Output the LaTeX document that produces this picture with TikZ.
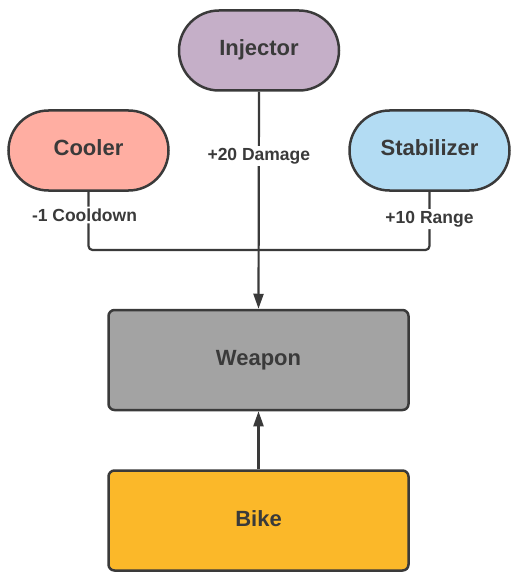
\documentclass[tikz,border=0pt]{standalone}
\usepackage{fontspec}
\setmainfont{Liberation Sans}
\usetikzlibrary{arrows.meta}

\definecolor{linecol}{HTML}{3A3A3A}
\definecolor{injectorcol}{HTML}{C5AFC8}
\definecolor{coolercol}{HTML}{FFAEA2}
\definecolor{stabilizercol}{HTML}{B3DCF3}
\definecolor{weaponcol}{HTML}{A3A3A3}
\definecolor{bikecol}{HTML}{FBB829}

\tikzset{
  part/.style={draw=linecol, line width=2.5pt, rounded corners=40pt,
    minimum width=160pt, minimum height=80pt, inner sep=0pt,
    text height=16pt, text depth=5pt,
    font=\fontsize{22}{26}\selectfont\bfseries, text=linecol},
  block/.style={draw=linecol, line width=2.5pt, rounded corners=6pt,
    minimum width=300pt, minimum height=100pt, inner sep=0pt,
    text height=16pt, text depth=5pt,
    font=\fontsize{22}{26}\selectfont\bfseries, text=linecol},
  wire/.style={draw=linecol, line width=2.2pt},
  bonus/.style={fill=white, inner sep=2pt, text=linecol,
    font=\fontsize{17.5}{20}\selectfont\bfseries},
  tip/.style={-{Triangle[length=15pt,width=10pt]}}
}

\begin{document}
\begin{tikzpicture}[x=1pt,y=-1pt]
\useasboundingbox (0,0) rectangle (516,580);
% parts
\node[part, fill=injectorcol] (injector) at (259,50.5) {Injector};
\node[part, fill=coolercol] (cooler) at (88.5,150.5) {Cooler};
\node[part, fill=stabilizercol] (stabilizer) at (429.5,150.5) {Stabilizer};
% weapon and bike
\node[block, fill=weaponcol] (weapon) at (258.5,360) {Weapon};
\node[block, fill=bikecol] (bike) at (258.5,520.5) {Bike};
\coordinate (join) at (259,250);
% connectors
\draw[wire, rounded corners=4pt] (cooler.south) |- node[bonus, pos=0.2, xshift=-4pt] {-1 Cooldown} (join);
\draw[wire, rounded corners=4pt] (stabilizer.south) |- node[bonus, pos=0.235] {+10 Range} (join);
\draw[wire, tip] (injector.south) -- node[bonus, pos=0.295] {+20 Damage} (weapon.north);
\draw[wire, tip] (bike.north) -- (weapon.south);
\end{tikzpicture}
\end{document}
